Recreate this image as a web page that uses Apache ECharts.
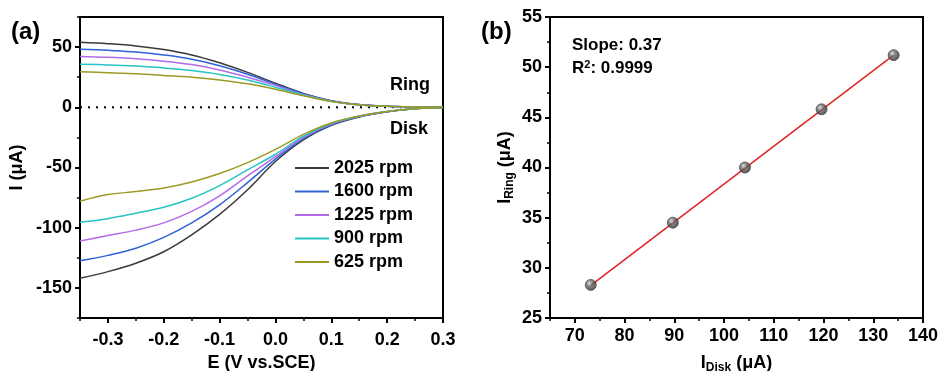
<!DOCTYPE html>
<html>
<head>
<meta charset="utf-8">
<script src="https://cdn.jsdelivr.net/npm/echarts@6/dist/echarts.min.js"></script>
<style>html,body{margin:0;padding:0;background:#fff;}#c{width:941px;height:371px;}</style>
</head>
<body>
<div id="c"></div>
<script>
// ---- Panel (a): RRDE curves ----
var potentials = [-0.35, -0.3, -0.25, -0.2, -0.15, -0.1, -0.05, 0, 0.05, 0.1, 0.15, 0.2, 0.25, 0.3];
var rpmNames = ['2025 rpm', '1600 rpm', '1225 rpm', '900 rpm', '625 rpm'];
var ring2025 = [54, 52.8, 51, 48, 43.5, 37, 29, 20, 11.5, 5.5, 2.3, 0.9, 0.3, 0];
var ring1600 = [48.3, 47.3, 46, 43.5, 40, 34.5, 27.5, 19.2, 11, 5.3, 2.2, 0.9, 0.3, 0];
var ring1225 = [42.2, 41.5, 40.3, 38.3, 35.5, 31, 25, 18.2, 10.6, 5.1, 2.1, 0.8, 0.3, 0];
var ring900  = [35.8, 35.2, 34.2, 32.7, 30.5, 27.3, 22.7, 16.7, 10.2, 5, 2, 0.8, 0.3, 0];
var ring625  = [29.5, 28.7, 27.8, 26.5, 25, 22.7, 19.5, 15, 9.6, 4.8, 2, 0.8, 0.3, 0];
var disk2025 = [-142, -136.5, -129.5, -120, -106, -89, -68.5, -45, -27, -15, -8, -3.7, -1.2, -0.2];
var disk1600 = [-127.5, -123, -117, -108, -96, -81, -62.5, -43, -26, -14.5, -7.7, -3.6, -1.2, -0.2];
var disk1225 = [-111, -106.5, -102, -96, -86.5, -73.5, -57, -41, -25, -14, -7.5, -3.5, -1.2, -0.2];
var disk900  = [-95.5, -92.5, -88, -83, -75.5, -65, -52, -39, -24, -13.5, -7.4, -3.5, -1.2, -0.2];
var disk625  = [-78, -72.5, -70, -67, -62, -55, -46, -35, -22.5, -13, -7.2, -3.4, -1.2, -0.2];
var aXTicks = [-0.3, -0.2, -0.1, 0, 0.1, 0.2, 0.3];
var aXMinor = [-0.35, -0.25, -0.15, -0.05, 0.05, 0.15, 0.25];
var aYTicks = [-150, -100, -50, 0, 50];
var aYMinor = [-175, -125, -75, -25, 25, 75];

// ---- Panel (b): ring vs disk current ----
var diskCurrent = [73.2, 89.7, 104.2, 119.6, 134.1];
var ringCurrent = [28.3, 34.5, 40.0, 45.8, 51.2];
var fitX = [73.2, 134.1];
var fitY = [28.25, 51.2];
var bXTicks = [70, 80, 90, 100, 110, 120, 130, 140];
var bXMinor = [65, 75, 85, 95, 105, 115, 125, 135];

var colors = ['#3a3a3a', '#2f62d6', '#b46ae8', '#28c4c4', '#9c9a24'];
var FONT = 'Liberation Sans, Arial, sans-serif';

function pairs(xs, ys) { return xs.map(function (x, i) { return [x, ys[i]]; }); }

var ringSets = [ring2025, ring1600, ring1225, ring900, ring625];
var diskSets = [disk2025, disk1600, disk1225, disk900, disk625];

var series = [];
series.push({
  type: 'line', xAxisIndex: 0, yAxisIndex: 0, silent: true, symbol: 'none',
  data: [[potentials[0], 0], [potentials[potentials.length - 1], 0]],
  lineStyle: { color: '#000', width: 2, type: [2, 6] }, z: 1
});
rpmNames.forEach(function (n, i) {
  [ringSets[i], diskSets[i]].forEach(function (vals) {
    series.push({
      name: n, type: 'line', xAxisIndex: 0, yAxisIndex: 0, smooth: 0.35,
      symbol: 'none', showSymbol: false,
      data: pairs(potentials, vals),
      lineStyle: { color: colors[i], width: 1.5 }, itemStyle: { color: colors[i] }
    });
  });
});
series.push({
  type: 'line', xAxisIndex: 2, yAxisIndex: 2, symbol: 'none', silent: true,
  data: pairs(fitX, fitY), lineStyle: { color: '#e02424', width: 1.5 }, z: 2
});
series.push({
  type: 'scatter', xAxisIndex: 2, yAxisIndex: 2, symbolSize: 11, z: 3,
  data: pairs(diskCurrent, ringCurrent),
  itemStyle: {
    color: { type: 'radial', x: 0.38, y: 0.35, r: 0.7, colorStops: [
      { offset: 0, color: '#d8d8d8' }, { offset: 0.35, color: '#6a6a6a' }, { offset: 1, color: '#2a2a2a' }] },
    borderColor: '#333', borderWidth: 0.8
  }
});

var labelStyle = { color: '#000', fontFamily: FONT, fontWeight: 'bold', fontSize: 18 };
var nameRich = {
  m: { fontFamily: FONT, fontWeight: 'bold', fontSize: 18, color: '#000' },
  s: { fontFamily: FONT, fontWeight: 'bold', fontSize: 12, color: '#000', padding: [10, 0, 0, 0] }
};

function mainAxis(extra) {
  return Object.assign({
    type: 'value',
    axisLine: { show: true, onZero: false, lineStyle: { color: '#000', width: 2 } },
    axisTick: { show: true, length: 5, lineStyle: { color: '#000', width: 2 } },
    splitLine: { show: false },
    axisLabel: Object.assign({}, labelStyle),
    nameTextStyle: { fontFamily: FONT, fontWeight: 'bold', fontSize: 18, color: '#000', rich: nameRich },
    nameLocation: 'middle'
  }, extra);
}
function minorAxis(extra) {
  return Object.assign({
    type: 'value',
    axisLine: { show: false, onZero: false },
    splitLine: { show: false },
    axisLabel: { show: false }
  }, extra);
}

var option = {
  animation: false,
  backgroundColor: '#fff',
  grid: [
    { left: 80, top: 17, width: 363, height: 301, show: true, borderColor: '#000', borderWidth: 2, containLabel: false, outerBoundsMode: 'none' },
    { left: 550, top: 17, width: 373, height: 301, show: true, borderColor: '#000', borderWidth: 2, containLabel: false, outerBoundsMode: 'none' }
  ],
  xAxis: [
    mainAxis({ gridIndex: 0, position: 'bottom', min: -0.35, max: 0.3, name: 'E (V vs.SCE)', nameGap: 36,
      axisTick: { show: true, length: 5, customValues: aXTicks, lineStyle: { color: '#000', width: 2 } },
      axisLabel: Object.assign({}, labelStyle, { customValues: aXTicks, margin: 13, formatter: function (v) { return v.toFixed(1); } }) }),
    minorAxis({ gridIndex: 0, position: 'bottom', min: -0.35, max: 0.3,
      axisTick: { show: true, length: 3, customValues: aXMinor, lineStyle: { color: '#000', width: 1.5 } } }),
    mainAxis({ gridIndex: 1, position: 'bottom', min: 65, max: 140, name: '{m|I}{s|Disk}{m| (μA)}', nameGap: 34,
      axisTick: { show: true, length: 5, customValues: bXTicks, lineStyle: { color: '#000', width: 2 } },
      axisLabel: Object.assign({}, labelStyle, { customValues: bXTicks, margin: 9 }) }),
    minorAxis({ gridIndex: 1, position: 'bottom', min: 65, max: 140,
      axisTick: { show: true, length: 3, customValues: bXMinor, lineStyle: { color: '#000', width: 1.5 } } })
  ],
  yAxis: [
    mainAxis({ gridIndex: 0, position: 'left', min: -175, max: 75, name: 'I (μA)', nameGap: 54,
      axisTick: { show: true, length: 5, customValues: aYTicks, lineStyle: { color: '#000', width: 2 } },
      axisLabel: Object.assign({}, labelStyle, { customValues: aYTicks, margin: 8 }) }),
    minorAxis({ gridIndex: 0, position: 'left', min: -175, max: 75,
      axisTick: { show: true, length: 3, customValues: aYMinor, lineStyle: { color: '#000', width: 1.5 } } }),
    mainAxis({ gridIndex: 1, position: 'left', min: 25, max: 55, interval: 5, name: '{m|I}{s|Ring}{m| (μA)}', nameGap: 34,
      axisLabel: Object.assign({}, labelStyle, { margin: 8 }),
      minorTick: { show: true, splitNumber: 2, length: 3, lineStyle: { color: '#000', width: 1.5 } } })
  ],
  legend: {
    left: 295, top: 159, padding: 0, orient: 'vertical', icon: 'rect', itemWidth: 34, itemHeight: 2, itemGap: 5.5,
    data: rpmNames, selectedMode: false,
    textStyle: { fontFamily: FONT, fontWeight: 'bold', fontSize: 18, color: '#000', lineHeight: 16 }
  },
  graphic: [
    { type: 'text', left: 11, top: 20, style: { text: '(a)', font: 'bold 24px ' + FONT, fill: '#000' } },
    { type: 'text', left: 481, top: 20, style: { text: '(b)', font: 'bold 24px ' + FONT, fill: '#000' } },
    { type: 'text', left: 390, top: 76, style: { text: 'Ring', font: 'bold 18px ' + FONT, fill: '#000' } },
    { type: 'text', left: 390, top: 120, style: { text: 'Disk', font: 'bold 18px ' + FONT, fill: '#000' } },
    { type: 'text', left: 572, top: 37, style: { text: 'Slope: 0.37', font: 'bold 17px ' + FONT, fill: '#000' } },
    { type: 'text', left: 572, top: 59, style: {
      text: '{m|R}{p|2}{m|: 0.9999}',
      rich: { m: { fontFamily: FONT, fontWeight: 'bold', fontSize: 17, color: '#000' },
              p: { fontFamily: FONT, fontWeight: 'bold', fontSize: 11, color: '#000', padding: [0, 0, 8, 0] } } } }
  ],
  series: series
};

var chart = echarts.init(document.getElementById('c'), null, { renderer: 'canvas' });
chart.setOption(option);
</script>
</body>
</html>
